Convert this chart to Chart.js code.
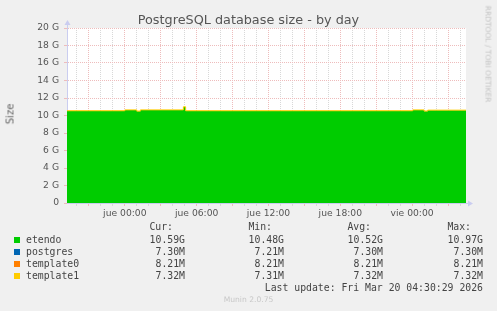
<!DOCTYPE html>
<html>
<head>
<meta charset="utf-8">
<script src="https://cdn.jsdelivr.net/npm/chart.js@4"></script>
<style>
  body { margin: 0; background: #f0f0f0; }
  #wrap { position: relative; width: 497px; height: 311px; overflow: hidden; font-family: "DejaVu Sans", sans-serif; }
  #chart { position: absolute; left: 0; top: 0; }
  .txt { position: absolute; white-space: pre; }
  .mono { font-family: "DejaVu Sans Mono", monospace; font-size: 9.8px; color: #444; line-height: 12px; }
  .sq { position: absolute; width: 6px; height: 6px; }
</style>
</head>
<body>
<div id="wrap">
  <canvas id="chart" width="497" height="311"></canvas>
  <div class="txt" style="left:0;width:497px;top:12px;text-align:center;font-size:12.8px;line-height:15px;color:#555;">PostgreSQL database size - by day</div>
  <div class="txt" style="left:10px;top:114px;font-size:10px;color:#666;transform:translate(-50%,-50%) rotate(-90deg);">Size</div>
  <div class="txt" style="left:488px;top:54px;font-size:7.5px;color:#c4c4c4;transform:translate(-50%,-50%) rotate(90deg);">RRDTOOL / TOBI OETIKER</div>
  <div id="legend"></div>
  <div class="txt" style="left:0;width:497px;top:295px;text-align:center;font-size:7.6px;line-height:10px;color:#c8c8c8;">Munin 2.0.75</div>
</div>
<script>
// time axis: hours relative to vie 00:00
const hours    = [-28.83, -24.0, -23.0, -22.7, -19.11, -18.92, 0.05, 1.0, 1.3, 4.5];
const etendo   = [10.52, 10.62, 10.48, 10.62, 10.97, 10.52, 10.62, 10.49, 10.59, 10.59];
const postgres = [0.0071, 0.0071, 0.0071, 0.0071, 0.0071, 0.0071, 0.0071, 0.0071, 0.0071, 0.0071];
const template0 = [0.0080, 0.0080, 0.0080, 0.0080, 0.0080, 0.0080, 0.0080, 0.0080, 0.0080, 0.0080];
const template1 = [0.0071, 0.0071, 0.0071, 0.0071, 0.0071, 0.0071, 0.0071, 0.0071, 0.0071, 0.0071];

const tickHours  = [-24, -18, -12, -6, 0];
const tickLabels = ['jue 00:00', 'jue 06:00', 'jue 12:00', 'jue 18:00', 'vie 00:00'];

const seriesNames = ['etendo', 'postgres', 'template0', 'template1'];
const seriesColors = ['#00cc00', '#0066b3', '#ff8000', '#ffcc00'];
const curVals = ['10.59G', '7.30M', '8.21M', '7.32M'];
const minVals = ['10.48G', '7.21M', '8.21M', '7.31M'];
const avgVals = ['10.52G', '7.30M', '8.21M', '7.32M'];
const maxVals = ['10.97G', '7.30M', '8.21M', '7.32M'];
const lastUpdate = 'Last update: Fri Mar 20 04:30:29 2026';

const RED = '#eebcbc';
const GRAY = '#d8d8d8';
const AXIS = '#cacdf0';

function pts(vals) {
  return vals.map((v, i) => ({ x: hours[i], y: v }));
}

// legend table
const legend = document.getElementById('legend');
const colRight = [312, 213, 114, 14]; // right offsets for Cur, Min, Avg, Max
let html = '';
['Cur:', 'Min:', 'Avg:', 'Max:'].forEach((h, c) => {
  html += `<div class="txt mono" style="right:${colRight[c] + 12}px;top:221px;">${h}</div>`;
});
seriesNames.forEach((name, r) => {
  const top = 234 + r * 12;
  html += `<div class="sq" style="left:14px;top:${top + 3}px;background:${seriesColors[r]};"></div>`;
  html += `<div class="txt mono" style="left:26px;top:${top}px;">${name}</div>`;
  [curVals, minVals, avgVals, maxVals].forEach((arr, c) => {
    html += `<div class="txt mono" style="right:${colRight[c]}px;top:${top}px;">${arr[r]}</div>`;
  });
});
html += `<div class="txt mono" style="right:14px;top:282px;">${lastUpdate}</div>`;
legend.innerHTML = html;

const bgPlugin = {
  id: 'plotbg',
  beforeDraw(chart) {
    const { ctx, chartArea: a } = chart;
    ctx.save();
    ctx.fillStyle = '#ffffff';
    ctx.fillRect(a.left, a.top, a.right - a.left, a.bottom - a.top);
    ctx.restore();
  },
  afterDraw(chart) {
    const { ctx, chartArea: a } = chart;
    ctx.save();
    ctx.strokeStyle = AXIS;
    ctx.fillStyle = AXIS;
    ctx.lineWidth = 1;
    ctx.beginPath();
    ctx.moveTo(a.left + 0.5, a.top);
    ctx.lineTo(a.left + 0.5, a.top - 4);
    ctx.moveTo(a.right, a.bottom + 0.5);
    ctx.lineTo(a.right + 3, a.bottom + 0.5);
    ctx.stroke();
    ctx.beginPath();
    ctx.moveTo(a.left - 2.5, a.top - 3);
    ctx.lineTo(a.left + 3.5, a.top - 3);
    ctx.lineTo(a.left + 0.5, a.top - 8);
    ctx.closePath();
    ctx.fill();
    ctx.beginPath();
    ctx.moveTo(a.right + 2, a.bottom - 2.5);
    ctx.lineTo(a.right + 2, a.bottom + 3.5);
    ctx.lineTo(a.right + 7, a.bottom + 0.5);
    ctx.closePath();
    ctx.fill();
    ctx.restore();
  }
};

new Chart(document.getElementById('chart'), {
  type: 'line',
  data: {
    datasets: [
      { label: 'etendo', data: pts(etendo), backgroundColor: seriesColors[0], borderWidth: 0, fill: 'origin' },
      { label: 'postgres', data: pts(postgres), backgroundColor: seriesColors[1], borderWidth: 0, fill: '-1' },
      { label: 'template0', data: pts(template0), backgroundColor: seriesColors[2], borderWidth: 0, fill: '-1' },
      { label: 'template1', data: pts(template1), backgroundColor: seriesColors[3], borderColor: seriesColors[3], borderWidth: 1, fill: '-1' }
    ]
  },
  options: {
    responsive: false,
    animation: false,
    layout: { padding: { left: 0, right: 31, top: 28, bottom: 0 } },
    elements: { point: { radius: 0 }, line: { stepped: 'before', tension: 0 } },
    plugins: {
      legend: { display: false },
      tooltip: { enabled: false },
      filler: { drawTime: 'beforeDatasetsDraw' }
    },
    scales: {
      x: {
        type: 'linear',
        min: hours[0],
        max: hours[hours.length - 1],
        afterFit: s => { s.height = 108; },
        ticks: {
          stepSize: 1,
          includeBounds: false,
          autoSkip: false,
          maxRotation: 0,
          padding: 2,
          color: '#555',
          font: { family: 'DejaVu Sans', size: 9.2 },
          callback: v => { const i = tickHours.indexOf(v); return i >= 0 ? tickLabels[i] : ''; }
        },
        grid: {
          color: c => (c.tick && c.tick.value % 3 === 0) ? RED : GRAY,
          tickColor: c => (c.tick && c.tick.value % 3 === 0) ? RED : GRAY,
          tickLength: 3,
          lineWidth: 1
        },
        border: { color: AXIS, width: 1, dash: [1, 1] }
      },
      y: {
        min: 0,
        max: 20,
        stacked: true,
        afterFit: s => { s.width = 67; },
        ticks: {
          stepSize: 1,
          padding: 5,
          color: '#555',
          font: { family: 'DejaVu Sans', size: 9.2 },
          callback: v => v % 2 === 0 ? (v === 0 ? '0' : v + ' G') : ''
        },
        grid: {
          color: c => (c.tick && c.tick.value % 2 === 0) ? RED : GRAY,
          tickColor: c => (c.tick && c.tick.value % 2 === 0) ? RED : GRAY,
          tickLength: 3,
          lineWidth: 1
        },
        border: { color: AXIS, width: 1, dash: [1, 1] }
      }
    }
  },
  plugins: [bgPlugin]
});
</script>
</body>
</html>
